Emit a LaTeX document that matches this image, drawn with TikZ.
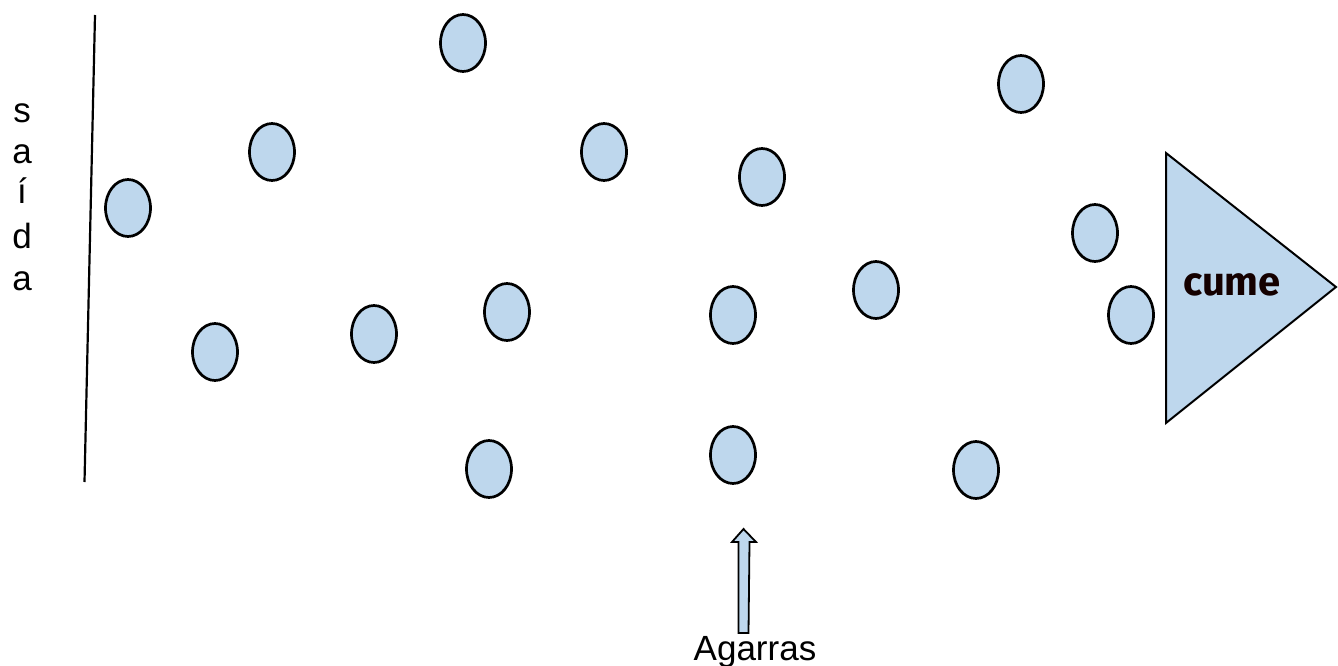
\documentclass[tikz,border=0pt]{standalone}
\usepackage{fontspec}
\setmainfont{Liberation Sans}
\newfontfamily\cumefont{Fira Sans}
\usetikzlibrary{shapes.geometric}
\definecolor{dotblue}{RGB}{190,215,237}
\tikzset{
  hold/.style={ellipse, draw=black, line width=2.7pt, fill=dotblue,
    minimum width=45pt, minimum height=57pt, inner sep=0pt},
  sidelet/.style={anchor=base, inner sep=0pt, font=\fontsize{35}{40}\selectfont},
}
\begin{document}
\begin{tikzpicture}[x=1pt,y=-1pt]
\useasboundingbox (0,0) rectangle (1338,666);
% start line
\coordinate (lt) at (95,15);
\coordinate (lb) at (84.5,482);
\draw[line width=2.2pt] (lt) -- (lb);
% side text
\node[sidelet] (s1) at (22,123) {s};
\node[sidelet] (s2) at (22,163) {a};
\node[sidelet] (s3) at (22,203) {í};
\node[sidelet] (s4) at (22,248) {d};
\node[sidelet] (s5) at (22,290) {a};
% holds
\node[hold] (e1) at (463,43) {};
\node[hold] (e2) at (272,152) {};
\node[hold] (e3) at (604,152) {};
\node[hold] (e4) at (762,177) {};
\node[hold] (e5) at (1021,84) {};
\node[hold] (e6) at (128,208) {};
\node[hold] (e7) at (1095,233) {};
\node[hold] (e8) at (215,352) {};
\node[hold] (e9) at (374,334) {};
\node[hold] (e10) at (507,312) {};
\node[hold] (e11) at (733,315) {};
\node[hold] (e12) at (876,290) {};
\node[hold] (e13) at (1131,315) {};
\node[hold] (e14) at (489,469) {};
\node[hold] (e15) at (733,455) {};
\node[hold] (e16) at (976,470) {};
% summit triangle
\coordinate (ta) at (1166,153);
\coordinate (tb) at (1166,423);
\coordinate (tc) at (1336,287);
\draw[line width=2pt, fill=dotblue, line join=miter] (ta) -- (tc) -- (tb) -- cycle;
\node[anchor=base, inner sep=0pt, text=black!92!red, font=\cumefont\bfseries\fontsize{40}{48}\selectfont] (cume) at (1232,295) {cume};
% arrow for Agarras
\node[anchor=base, inner sep=0pt, font=\fontsize{35}{42}\selectfont] (agarras) at (755,660) {Agarras};
\coordinate (ab) at (743.5,633);
\draw[line width=1.8pt, fill=dotblue, line join=miter]
  ([xshift=-5pt]ab) -- ++(0,-91) -- ++(-6.5,0) -- (743.5,529) -- (756,542) -- ++(-6.5,0) -- ([xshift=5pt]ab) -- cycle;
\end{tikzpicture}
\end{document}
